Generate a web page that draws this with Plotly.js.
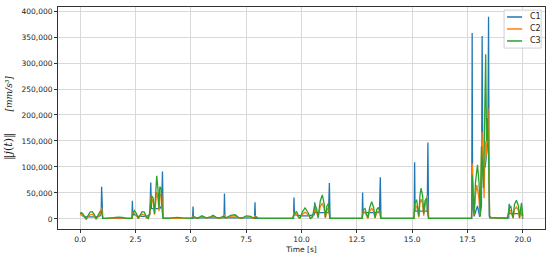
<!DOCTYPE html>
<html>
<head>
<meta charset="utf-8">
<script src="https://cdn.plot.ly/plotly-3.0.1.min.js"></script>
<style>
  html, body { margin: 0; padding: 0; background: #fff; }
  #chart { width: 550px; height: 259px; }
</style>
</head>
<body>
<div id="chart"></div>
<script>
// 讀圖估計的數值（單位：千 mm/s³）
const t1 = [0, 0.05, 0.1, 0.2, 0.3, 0.4, 0.5, 0.6, 0.7, 0.8, 0.9, 0.95, 0.97, 0.99, 1.02,
  1.1, 1.5, 2.0, 2.34, 2.36, 2.38, 2.5, 2.6, 2.8, 3.0, 3.15, 3.19, 3.22, 3.4, 3.6, 3.68, 3.72, 3.75,
  4.0, 4.5, 5.08, 5.1, 5.12, 5.5, 6.0, 6.5, 6.52, 6.54, 7.0, 7.5, 7.88, 7.9, 7.92, 8.5, 9.0,
  9.64, 9.66, 9.68, 10.0, 10.3, 10.58, 10.6, 10.62, 11.0, 11.22, 11.26, 11.29, 12.0,
  12.74, 12.76, 12.78, 13.2, 13.52, 13.56, 13.59, 14.5, 15.09, 15.11, 15.13, 15.4, 15.68, 15.71, 15.74,
  16.5, 17.69, 17.71, 17.73, 17.8, 17.95, 18.05, 18.13, 18.16, 18.19, 18.3, 18.42, 18.45, 18.48,
  18.6, 19.0, 19.36, 19.38, 19.4, 19.7, 19.95, 20.0];
const c1 = [11, 10, 6, 4, 4, 4, 4, 4, 4, 4, 6, 10, 62, 8, 1,
  1, 1.5, 1, 1, 35, 8, 8, 5, 5, 5, 8, 70, 20, 20, 20, 25, 91, 2,
  1, 1, 1, 24, 2, 2, 2, 2, 49, 2, 2, 2, 2, 32, 1, 1, 1,
  1, 41, 8, 6, 6, 8, 32, 12, 12, 12, 69, 1, 1,
  1, 51, 12, 12, 12, 80, 1, 1, 1, 109, 15, 15, 15, 147, 1,
  1, 1, 358, 25, 5, 25, 4, 25, 352, 100, 100, 150, 389, 5,
  2, 2, 2, 29, 10, 10, 10, 0];

const t2 = [0, 0.05, 0.12, 0.2, 0.27, 0.35, 0.45, 0.55, 0.65, 0.72, 0.8, 0.9, 0.97, 1.02,
  1.2, 1.5, 1.7, 1.9, 2.1, 2.34,
  2.38, 2.45, 2.55, 2.62, 2.7, 2.8, 2.9, 3.0, 3.08, 3.15, 3.2, 3.3, 3.36, 3.46, 3.52, 3.56, 3.62, 3.68, 3.72, 3.75,
  3.9, 4.2, 4.4, 4.6, 4.8, 5.0, 5.1, 5.15, 5.3, 5.5, 5.7, 5.9, 6.0, 6.15, 6.3, 6.45, 6.52, 6.6, 6.8, 7.0, 7.15, 7.3, 7.5, 7.7, 7.85, 7.9, 8.05, 8.5, 9.0, 9.6,
  9.66, 9.78, 9.86, 9.92, 10.05, 10.16, 10.3, 10.4, 10.5, 10.6, 10.68, 10.75, 10.85, 10.94, 11.02, 11.08, 11.15, 11.22, 11.28,
  11.5, 12.0, 12.5, 12.74,
  12.78, 12.87, 12.95, 13.0, 13.08, 13.17, 13.26, 13.32, 13.4, 13.47, 13.54, 13.58,
  14.0, 14.5, 15.08,
  15.12, 15.2, 15.27, 15.3, 15.35, 15.4, 15.47, 15.52, 15.6, 15.68, 15.72, 15.75,
  16.0, 16.5, 17.0, 17.68,
  17.71, 17.75, 17.8, 17.86, 17.92, 18.0, 18.08, 18.15, 18.2, 18.25, 18.3, 18.35, 18.42, 18.46, 18.5,
  18.6, 19.0, 19.3,
  19.38, 19.45, 19.52, 19.56, 19.62, 19.71, 19.8, 19.85, 19.9, 19.94, 20.0];
const c2 = [7, 9, 7, 2, 0, 4, 8, 9, 5, 0, 4, 9, 22, 1,
  1, 2, 2.5, 2, 1, 1,
  12, 11, 6, 1, 5, 9, 8, 2, 1, 10, 45, 30, 8, 52, 38, 15, 45, 50, 15, 1,
  1, 1.5, 2, 1.5, 1, 1, 5, 3, 1, 4, 1.5, 3, 5, 2, 1, 3, 8, 1.5, 5, 6, 2, 1, 4, 3, 1, 6, 1, 1, 1, 1,
  12, 9, 3, 1, 9, 13, 8, 1, 3, 18, 14, 2, 24, 30, 20, 2, 17, 22, 1,
  1, 1, 1, 1,
  14, 13, 5, 1, 14, 21, 14, 1, 12, 15, 12, 1,
  1, 1, 1,
  25, 24, 10, 3, 30, 38, 30, 6, 30, 45, 8, 1,
  1, 1, 1, 1,
  107, 40, 8, 45, 65, 45, 5, 168, 80, 40, 150, 120, 213, 100, 2,
  2, 2, 1,
  15, 16, 6, 1, 18, 23, 16, 1, 13, 20, 3];

const t3 = [0, 0.05, 0.12, 0.2, 0.27, 0.35, 0.45, 0.55, 0.65, 0.72, 0.8, 0.9, 0.97, 1.02,
  1.2, 1.5, 1.7, 1.9, 2.1, 2.34,
  2.38, 2.45, 2.55, 2.62, 2.7, 2.8, 2.9, 3.0, 3.08, 3.15, 3.22, 3.3, 3.36, 3.46, 3.52, 3.56, 3.6, 3.66, 3.7, 3.74,
  3.9, 4.2, 4.4, 4.6, 4.8, 5.0, 5.15, 5.3, 5.5, 5.7, 5.9, 6.0, 6.15, 6.3, 6.45, 6.6, 6.8, 7.0, 7.15, 7.3, 7.5, 7.7, 7.85, 7.95, 8.05, 8.5, 9.0, 9.6,
  9.7, 9.78, 9.86, 9.92, 10.05, 10.16, 10.3, 10.4, 10.5, 10.6, 10.68, 10.75, 10.85, 10.94, 11.02, 11.08, 11.15, 11.22, 11.28,
  11.5, 12.0, 12.5, 12.74,
  12.8, 12.87, 12.95, 13.0, 13.08, 13.17, 13.26, 13.32, 13.4, 13.47, 13.54, 13.58,
  14.0, 14.5, 15.08,
  15.12, 15.2, 15.27, 15.3, 15.35, 15.4, 15.47, 15.52, 15.58, 15.65, 15.7, 15.74,
  16.0, 16.5, 17.0, 17.68,
  17.71, 17.75, 17.8, 17.86, 17.95, 18.02, 18.08, 18.13, 18.18, 18.22, 18.27, 18.32, 18.36, 18.4, 18.45, 18.5,
  18.6, 19.0, 19.3,
  19.38, 19.45, 19.52, 19.56, 19.62, 19.71, 19.8, 19.85, 19.9, 19.94, 20.0];
const c3 = [10, 12, 10, 3, 0, 6, 13, 14, 8, 0, 6, 14, 15, 1,
  1, 3, 3.5, 3, 1, 1,
  10, 16, 10, 1, 8, 14, 13, 3, 1, 15, 45, 40, 10, 83, 55, 20, 62, 58, 20, 1,
  1, 2, 3, 2, 1, 1, 4, 1, 6, 2, 4, 7, 3, 1, 5, 2, 7, 8, 3, 1, 6, 5, 1, 4, 1, 1, 1.5, 1,
  12, 14, 5, 1, 14, 21, 12, 1, 5, 28, 20, 3, 35, 46, 30, 3, 25, 30, 1,
  1, 1, 1, 1,
  18, 20, 8, 2, 22, 33, 22, 2, 18, 22, 15, 1,
  1, 1, 1,
  30, 37, 15, 5, 45, 59, 45, 10, 35, 40, 10, 1,
  1, 1, 1, 1,
  85, 60, 10, 70, 104, 70, 5, 140, 100, 60, 180, 317, 150, 194, 120, 2,
  2, 2, 1,
  20, 25, 10, 2, 28, 36, 25, 2, 20, 31, 5];

const seriesNames = ['C1', 'C2', 'C3'];
const seriesColors = ['#1f77b4', '#ff7f0e', '#2ca02c'];
const xTicks = [0, 2.5, 5, 7.5, 10, 12.5, 15, 17.5, 20];
const yTicks = [0, 50000, 100000, 150000, 200000, 250000, 300000, 350000, 400000];

const times = [t1, t2, t3];
const vals = [c1, c2, c3];
const traces = seriesNames.map((name, i) => ({
  x: times[i],
  y: vals[i].map(v => v * 1000),
  mode: 'lines',
  name: name,
  line: {color: seriesColors[i], width: 1.3}
}));

// 圖例：matplotlib 風格的小框（紙座標）
const legTop = 0.955, legStep = 0.054;
const shapes = [{
  type: 'rect', xref: 'paper', yref: 'paper',
  x0: 0.916, x1: 0.992, y0: 0.815, y1: 0.986,
  fillcolor: 'rgba(255,255,255,0.9)', line: {color: '#d0d0d0', width: 1}
}];
const annotations = [];
seriesNames.forEach((name, i) => {
  const y = legTop - i * legStep;
  shapes.push({
    type: 'line', xref: 'paper', yref: 'paper',
    x0: 0.922, x1: 0.953, y0: y, y1: y,
    line: {color: seriesColors[i], width: 1.5}
  });
  annotations.push({
    xref: 'paper', yref: 'paper', x: 0.966, y: y,
    xanchor: 'left', yanchor: 'middle', showarrow: false,
    text: name, font: {size: 8, color: '#222'}
  });
});

const axisStyle = {
  showgrid: true,
  gridcolor: '#d9d9d9',
  gridwidth: 1,
  zeroline: false,
  showline: true,
  linecolor: '#333',
  linewidth: 1,
  mirror: true,
  ticks: 'outside',
  ticklen: 3,
  tickcolor: '#333',
  tickfont: {size: 7.5, color: '#222'}
};

const layout = {
  width: 550,
  height: 259,
  margin: {l: 58, r: 5, t: 7, b: 30},
  paper_bgcolor: '#fff',
  plot_bgcolor: '#fff',
  font: {family: 'DejaVu Sans', color: '#222'},
  showlegend: false,
  shapes: shapes,
  annotations: annotations,
  xaxis: Object.assign({}, axisStyle, {
    range: [-1, 21],
    tickvals: xTicks,
    ticktext: xTicks.map(v => v.toFixed(1)),
    title: {text: 'Time [s]', font: {size: 7.5}, standoff: 3}
  }),
  yaxis: Object.assign({}, axisStyle, {
    range: [-19400, 407800],
    tickvals: yTicks,
    tickformat: ',d',
    title: {
      text: '‖<i>j</i>(<i>t</i>)‖      <span style="font-size:9px"><i>[mm/s³]</i></span>',
      font: {size: 11, family: 'DejaVu Serif'},
      standoff: 6
    }
  })
};

Plotly.newPlot('chart', traces, layout, {displayModeBar: false, staticPlot: true});
</script>
</body>
</html>
